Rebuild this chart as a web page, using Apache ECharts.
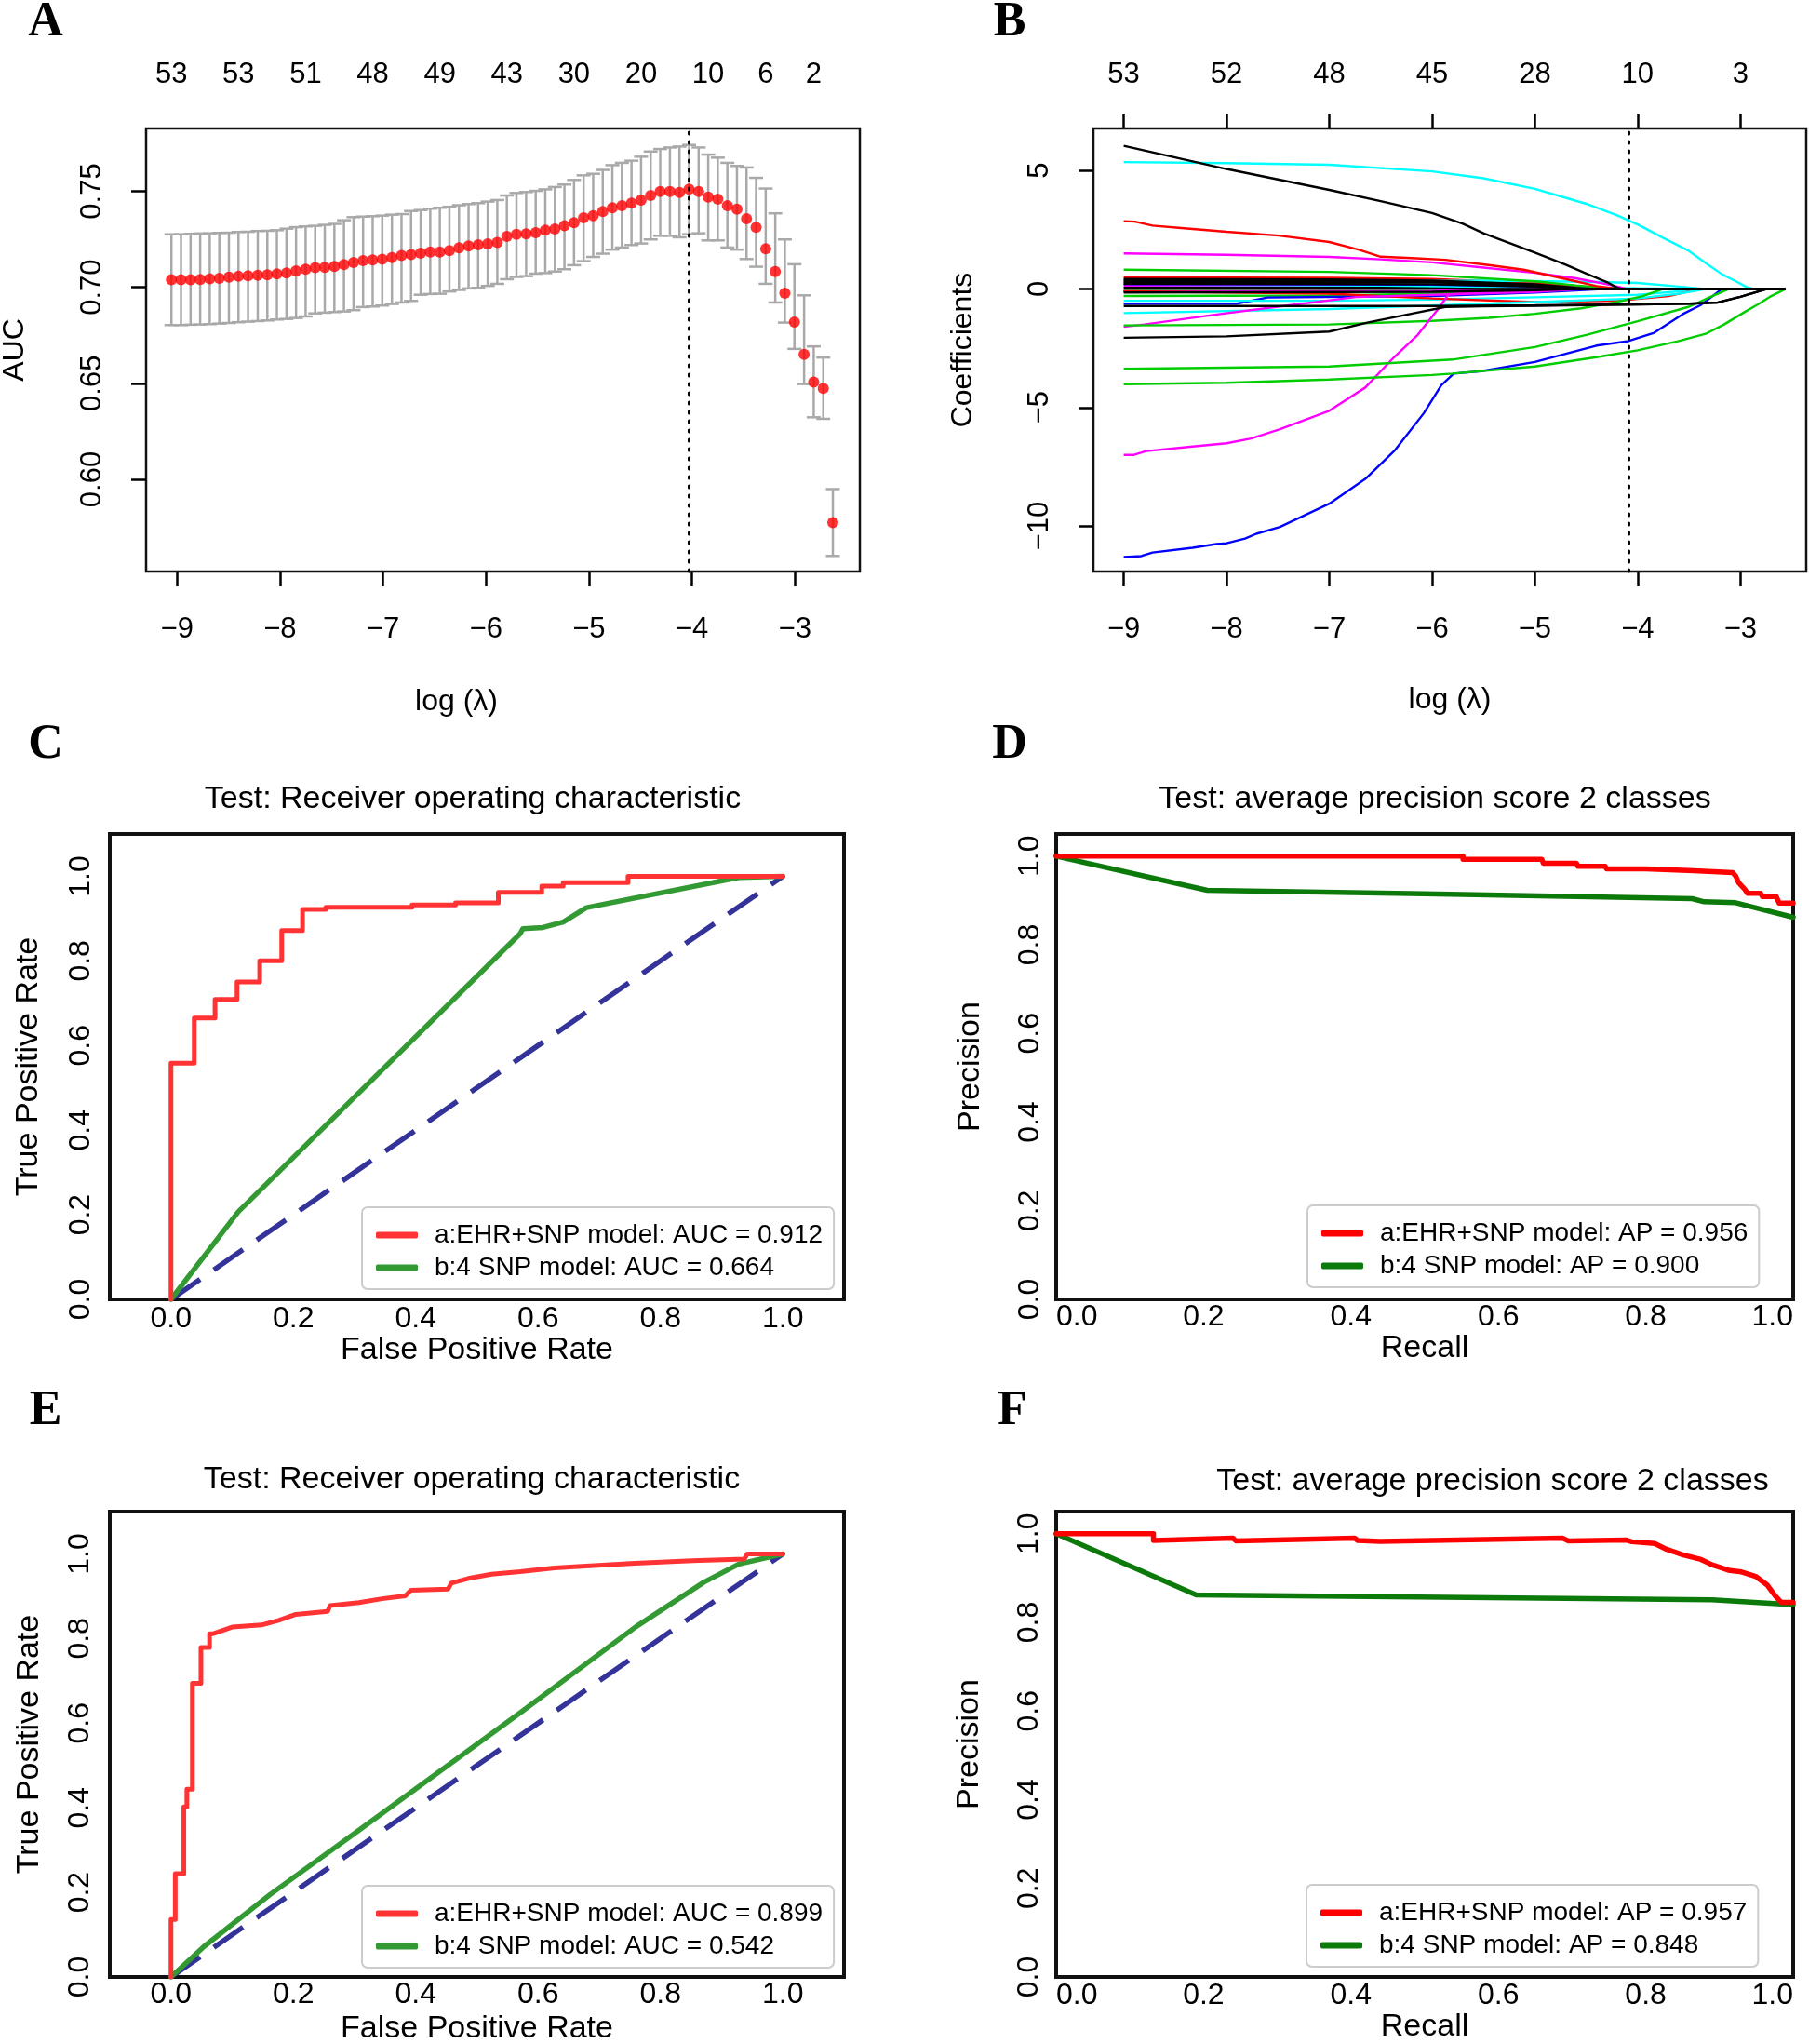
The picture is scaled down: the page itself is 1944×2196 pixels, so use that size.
<!DOCTYPE html>
<html><head><meta charset="utf-8">
<script src="https://cdn.jsdelivr.net/npm/echarts@6/dist/echarts.min.js"></script>
<style>html,body{margin:0;padding:0;background:#fff}#c{width:1944px;height:2196px}</style>
</head><body><div id="c"></div><script>
// ---------------- Panel A: cross-validated AUC vs log(lambda) ----------------
const logLambdaA = [-9.054,-8.961,-8.868,-8.775,-8.682,-8.589,-8.496,-8.403,-8.310,-8.216,
  -8.123,-8.030,-7.937,-7.844,-7.751,-7.658,-7.565,-7.472,-7.379,-7.286,
  -7.193,-7.100,-7.007,-6.913,-6.820,-6.727,-6.634,-6.541,-6.448,-6.355,
  -6.262,-6.169,-6.076,-5.983,-5.890,-5.797,-5.704,-5.610,-5.517,-5.424,
  -5.331,-5.238,-5.145,-5.052,-4.959,-4.866,-4.773,-4.680,-4.587,-4.494,
  -4.401,-4.308,-4.214,-4.121,-4.028,-3.935,-3.842,-3.749,-3.656,-3.563,
  -3.470,-3.377,-3.284,-3.191,-3.098,-3.005,-2.911,-2.818,-2.725,-2.632];
const aucMean = [0.7039,0.7039,0.7039,0.7041,0.7044,0.7047,0.7053,0.7057,0.7060,0.7063,
  0.7065,0.7070,0.7074,0.7086,0.7094,0.7102,0.7104,0.7108,0.7118,0.7129,
  0.7139,0.7142,0.7146,0.7155,0.7165,0.7170,0.7178,0.7184,0.7184,0.7191,
  0.7205,0.7215,0.7221,0.7226,0.7233,0.7265,0.7276,0.7278,0.7284,0.7297,
  0.7304,0.7320,0.7336,0.7362,0.7373,0.7394,0.7414,0.7425,0.7438,0.7454,
  0.7478,0.7499,0.7499,0.7494,0.7511,0.7499,0.7470,0.7459,0.7425,0.7406,
  0.7357,0.7312,0.7200,0.7082,0.6969,0.6819,0.6651,0.6506,0.6474,0.5774];
const aucUpper = [0.7276,0.7276,0.7278,0.7280,0.7281,0.7283,0.7284,0.7288,0.7289,0.7293,
  0.7294,0.7297,0.7305,0.7313,0.7317,0.7320,0.7325,0.7330,0.7349,0.7365,
  0.7368,0.7370,0.7373,0.7378,0.7381,0.7397,0.7402,0.7409,0.7414,0.7419,
  0.7427,0.7433,0.7438,0.7446,0.7454,0.7478,0.7491,0.7496,0.7502,0.7510,
  0.7522,0.7535,0.7559,0.7583,0.7591,0.7611,0.7636,0.7648,0.7659,0.7680,
  0.7707,0.7720,0.7728,0.7733,0.7741,0.7728,0.7691,0.7675,0.7648,0.7632,
  0.7624,0.7570,0.7514,0.7385,0.7249,0.7120,0.6958,0.6692,0.6634,0.5949];
const aucLower = [0.6803,0.6803,0.6805,0.6806,0.6808,0.6811,0.6814,0.6818,0.6821,0.6824,
  0.6827,0.6832,0.6835,0.6840,0.6848,0.6864,0.6868,0.6871,0.6874,0.6881,
  0.6897,0.6900,0.6905,0.6913,0.6921,0.6929,0.6961,0.6965,0.6966,0.6978,
  0.6986,0.6994,0.6997,0.7007,0.7018,0.7042,0.7054,0.7058,0.7071,0.7074,
  0.7082,0.7094,0.7115,0.7136,0.7158,0.7175,0.7196,0.7207,0.7220,0.7228,
  0.7249,0.7268,0.7268,0.7260,0.7276,0.7281,0.7244,0.7244,0.7207,0.7196,
  0.7147,0.7107,0.7018,0.6921,0.6816,0.6679,0.6496,0.6323,0.6315,0.5601];
const nzTopAPos = [-9.054,-8.403,-7.751,-7.100,-6.448,-5.797,-5.145,-4.494,-3.842,-3.284,-2.818];
const nzTopA = [53,53,51,48,49,43,30,20,10,6,2];
const lambdaMinA = -4.028;
const logTicks = [-9,-8,-7,-6,-5,-4,-3];
const aucTicks = [0.60,0.65,0.70,0.75];

// ---------------- Panel B: coefficient paths ----------------
const nzTopB = [53,52,48,45,28,10,3];
const coefTicks = [-10,-5,0,5];
const lambdaLineB = -4.09;
const coefPaths = [
  [[-9,0.49],[-7,0.47],[-6,0.42],[-5,0.25],[-4.5,0.08],[-4.2,0],[-2.56,0]],
  [[-9,0.28],[-7,0.32],[-5.45,0.35],[-4.5,0.3],[-4,0.25],[-3.6,0.1],[-3.35,0],[-2.56,0]],
  [[-9,0.13],[-6,0.1],[-5,0.03],[-4.8,0],[-2.56,0]],
  [[-9,-0.1],[-6,-0.1],[-5,-0.05],[-4.5,0],[-2.56,0]],
  [[-9,-0.3],[-7,-0.28],[-6,-0.2],[-5,-0.1],[-4.5,0],[-2.56,0]],
  [[-9,-0.62],[-7.9,-0.62],[-7.6,-0.36],[-6,-0.3],[-5,-0.15],[-4.3,0],[-2.56,0]],
  [[-9,-0.5],[-7,-0.5],[-6,-0.45],[-5,-0.35],[-4,-0.25],[-3.33,0],[-2.56,0]],
  [[-9,-0.05],[-6,-0.05],[-5.5,0],[-2.56,0]],
  [[-9,-0.1],[-6,-0.08],[-5,0],[-2.56,0]],
  [[-9,0.05],[-6,0.1],[-5,0.08],[-4,0.03],[-3.5,0],[-2.56,0]],
  [[-9,0.2],[-6,0.18],[-5,0.1],[-4.5,0],[-2.56,0]],
  [[-9,-0.1],[-7,-0.2],[-6,-0.4],[-5,-0.55],[-4.2,-0.5],[-3.7,-0.3],[-3.39,0],[-2.56,0]],
  [[-9,-1.02],[-7,-0.85],[-6,-0.7],[-5,-0.55],[-4,-0.4],[-3.6,-0.2],[-3.33,0],[-2.56,0]],
  [[-9,-1.6],[-8.8,-1.5],[-8.13,-1.1],[-7.5,-0.75],[-6.74,-0.34],[-6,-0.25],[-5,-0.12],[-4.5,0],[-2.56,0]],
  [[-9,-1.54],[-7,-1.5],[-6,-1.35],[-5.45,-1.22],[-5,-1.05],[-4.55,-0.82],[-4.2,-0.55],[-3.95,-0.3],[-3.75,0],[-2.56,0]],
  [[-9,0.81],[-7,0.72],[-6,0.58],[-5,0.32],[-4.6,0.15],[-4.3,0.03],[-4.1,0],[-2.56,0]],
  [[-9,1.5],[-8,1.44],[-7,1.35],[-6.5,1.25],[-6,1.12],[-5.5,0.9],[-5,0.68],[-4.6,0.45],[-4.3,0.2],[-4.1,0],[-2.56,0]],
  [[-9,2.86],[-8.89,2.84],[-8.72,2.67],[-8.44,2.57],[-8,2.41],[-7.49,2.25],[-7,1.98],[-6.71,1.65],[-6.5,1.36],[-6.2,1.3],[-5.87,1.23],[-5.45,1.01],[-5.11,0.81],[-4.63,0.35],[-4.4,0.12],[-4.18,0],[-2.56,0]],
  [[-9,5.35],[-8,5.31],[-7,5.24],[-6,4.96],[-5.5,4.67],[-5,4.22],[-4.5,3.59],[-4.2,3.1],[-4,2.72],[-3.75,2.15],[-3.5,1.6],[-3.33,1.07],[-3.18,0.62],[-3.03,0.29],[-2.95,0.1],[-2.88,0],[-2.56,0]],
  [[-9,-7.0],[-8.9,-7.0],[-8.78,-6.84],[-8.33,-6.65],[-8,-6.51],[-7.76,-6.31],[-7.48,-5.92],[-7,-5.14],[-6.65,-4.16],[-6.37,-2.88],[-6.14,-1.94],[-5.95,-0.9],[-5.84,-0.23],[-5.5,-0.12],[-5,0],[-2.56,0]],
  [[-9,-11.31],[-8.83,-11.27],[-8.72,-11.12],[-8.33,-10.92],[-8.1,-10.76],[-8,-10.73],[-7.82,-10.53],[-7.71,-10.33],[-7.48,-10.04],[-7,-9.06],[-6.64,-7.98],[-6.36,-6.8],[-6.08,-5.24],[-5.91,-4.06],[-5.79,-3.57],[-5.52,-3.47],[-5,-3.08],[-4.4,-2.39],[-4.09,-2.2],[-3.84,-1.85],[-3.56,-1.06],[-3.39,-0.69],[-3.33,-0.5],[-3.18,0],[-2.56,0]],
  [[-9,-3.37],[-7,-3.27],[-5.8,-2.98],[-5,-2.45],[-4.5,-1.94],[-4,-1.36],[-3.5,-0.75],[-3.3,-0.35],[-3.11,0],[-2.56,0]],
  [[-9,-4.02],[-8,-3.96],[-7,-3.82],[-6,-3.63],[-5.8,-3.57],[-5,-3.27],[-4.4,-2.88],[-4,-2.59],[-3.6,-2.2],[-3.33,-1.88],[-3.16,-1.5],[-2.95,-0.95],[-2.83,-0.65],[-2.7,-0.3],[-2.56,0]],
  [[-9,0.42],[-7,0.4],[-6,0.35],[-5,0.2],[-4.6,0.05],[-4.4,0],[-2.56,0]],
  [[-9,0.36],[-7,0.35],[-6,0.3],[-5,0.12],[-4.7,0],[-2.56,0]],
  [[-9,0.22],[-6,0.2],[-5,0.1],[-4.6,0],[-2.56,0]],
  [[-9,0.05],[-6.5,0.05],[-5.5,0],[-2.56,0]],
  [[-9,-0.15],[-6,-0.12],[-5,-0.05],[-4.5,0],[-2.56,0]],
  [[-9,0.3],[-6,0.28],[-5,0.15],[-4.5,0],[-2.56,0]],
  [[-9,-0.72],[-7,-0.72],[-6,-0.72],[-5,-0.69],[-4,-0.65],[-3.5,-0.62],[-3.22,-0.57],[-3.0,-0.33],[-2.74,0],[-2.56,0]],
  [[-9,-2.06],[-8,-2.0],[-7,-1.8],[-6.62,-1.41],[-6.17,-1.02],[-5.87,-0.76],[-5.5,-0.73],[-5,-0.71],[-4.5,-0.68],[-4,-0.65],[-3.5,-0.62],[-3.22,-0.57],[-3,-0.33],[-2.74,0],[-2.56,0]],
  [[-9,6.04],[-8.5,5.55],[-8,5.06],[-7.5,4.62],[-7,4.18],[-6.5,3.7],[-6,3.2],[-5.7,2.75],[-5.5,2.35],[-5,1.53],[-4.7,1.02],[-4.5,0.65],[-4.3,0.29],[-4.2,0.05],[-4.15,0],[-2.56,0]]
];
const coefColors = ['#ff0000','#00ffff','#ff00ff','#0000ff','#00cd00','#0000ff','#00ffff','#00cd00','#ff00ff','#00ffff','#0000ff',
  '#ff0000','#00ffff','#ff00ff','#00cd00','#00cd00','#ff00ff','#ff0000','#00ffff','#ff00ff','#0000ff','#00cd00','#00cd00',
  '#000000','#000000','#000000','#000000','#000000','#000000','#000000','#000000','#000000'];

// ---------------- Panels C-F ----------------
const unitTicks = [0,0.2,0.4,0.6,0.8,1.0];
const chanceLine = [[0,0],[1,1]];
const nameC1 = 'a:EHR+SNP model: AUC = 0.912', nameC2 = 'b:4 SNP model: AUC = 0.664';
const rocC_red = [[0,0],[0,0.558],[0.038,0.558],[0.038,0.665],[0.072,0.665],[0.072,0.709],[0.108,0.709],[0.108,0.75],[0.145,0.75],[0.145,0.80],[0.181,0.80],[0.181,0.872],[0.215,0.872],[0.215,0.922],[0.253,0.922],[0.253,0.927],[0.394,0.927],[0.394,0.932],[0.465,0.932],[0.465,0.937],[0.535,0.937],[0.535,0.962],[0.606,0.962],[0.606,0.977],[0.641,0.977],[0.641,0.985],[0.747,0.985],[0.747,1.0],[1.0,1.0]];
const rocC_green = [[0,0],[0.11,0.207],[0.5705,0.864],[0.575,0.876],[0.608,0.879],[0.641,0.892],[0.679,0.926],[0.928,0.997],[1.0,1.0]];
const nameD1 = 'a:EHR+SNP model: AP = 0.956', nameD2 = 'b:4 SNP model: AP = 0.900';
const prD_red = [[0,1.0],[0.552,1.0],[0.552,0.993],[0.659,0.993],[0.661,0.984],[0.706,0.984],[0.708,0.977],[0.745,0.977],[0.747,0.971],[0.800,0.971],[0.802,0.967],[0.865,0.967],[0.867,0.963],[0.918,0.963],[0.922,0.955],[0.926,0.940],[0.934,0.926],[0.938,0.916],[0.956,0.916],[0.958,0.909],[0.977,0.909],[0.981,0.894],[1.0,0.894]];
const prD_green = [[0,1.0],[0.205,0.923],[0.5,0.915],[0.863,0.904],[0.879,0.897],[0.922,0.895],[1.0,0.862]];
const nameE1 = 'a:EHR+SNP model: AUC = 0.899', nameE2 = 'b:4 SNP model: AUC = 0.542';
const rocE_red = [[0,0],[0,0.136],[0.007,0.136],[0.007,0.244],[0.021,0.244],[0.021,0.402],[0.026,0.402],[0.026,0.444],[0.035,0.444],[0.035,0.694],[0.049,0.694],[0.049,0.779],[0.063,0.779],[0.063,0.811],[0.068,0.811],[0.1,0.827],[0.148,0.832],[0.176,0.843],[0.204,0.857],[0.256,0.864],[0.26,0.878],[0.307,0.885],[0.345,0.894],[0.383,0.901],[0.392,0.914],[0.453,0.917],[0.458,0.931],[0.486,0.942],[0.524,0.952],[0.571,0.958],[0.627,0.967],[0.665,0.970],[0.758,0.978],[0.852,0.984],[0.937,0.988],[0.942,1.0],[1.0,1.0]];
const rocE_green = [[0,0],[0.054,0.072],[0.162,0.195],[0.289,0.328],[0.571,0.625],[0.759,0.827],[0.871,0.933],[0.928,0.976],[1.0,1.0]];
const nameF1 = 'a:EHR+SNP model: AP = 0.957', nameF2 = 'b:4 SNP model: AP = 0.848';
const prF_red = [[0,1.0],[0.132,1.0],[0.132,0.985],[0.240,0.990],[0.244,0.984],[0.405,0.990],[0.409,0.985],[0.440,0.983],[0.687,0.990],[0.695,0.984],[0.773,0.986],[0.781,0.982],[0.812,0.978],[0.828,0.965],[0.851,0.952],[0.875,0.942],[0.890,0.930],[0.914,0.917],[0.930,0.914],[0.949,0.904],[0.965,0.884],[0.976,0.859],[0.984,0.845],[1.0,0.845]];
const prF_green = [[0,1.0],[0.19,0.862],[0.89,0.851],[1.0,0.840]];

// ---------------- styling / layout ----------------
const FONT = '"Liberation Sans", Arial, sans-serif';
const SERIF = '"Liberation Serif", "DejaVu Serif", serif';
const minus = v => (v < 0 ? '\u2212' + Math.abs(v) : String(v));
const hideSplit = {show:false};
const noLine = {show:false, onZero:false};

function grid(left, top, width, height, bw) {
  return {left, top, width, height, show:true, borderColor:'#111', borderWidth:bw,
          backgroundColor:'transparent', containLabel:false, outerBoundsMode:'none'};
}
function rAxisX(gi, min, max, opts) {
  return Object.assign({type:'value', gridIndex:gi, min, max, splitLine:hideSplit, axisLine:noLine}, opts);
}
const rTick = (vals) => ({show:true, customValues: vals, length:16, inside:false, lineStyle:{color:'#000', width:2.5}});
const rLabel = (vals, margin, fmt, rot) => ({customValues: vals, margin, formatter: fmt, rotate: rot || 0,
  fontSize:31, color:'#000', fontFamily:FONT});
const rName = {fontSize:32, color:'#000', fontFamily:FONT};

const xAxes = [
  // A bottom
  rAxisX(0, -9.30, -2.37, {position:'bottom', axisTick:rTick(logTicks), axisLabel:rLabel(logTicks,47,minus),
    name:'log (\u03bb)', nameLocation:'middle', nameGap:124,
    nameTextStyle:Object.assign({padding:[0,100,0,0]}, rName)}),
  // A top (number of nonzero coefficients)
  rAxisX(0, -9.30, -2.37, {position:'top', axisTick:{show:false},
    axisLabel:rLabel(nzTopAPos,42,v => String(nzTopA[nzTopAPos.findIndex(p => Math.abs(p - v) < 1e-6)]))}),
  // B bottom
  rAxisX(1, -9.295, -2.36, {position:'bottom', axisTick:rTick(logTicks), axisLabel:rLabel(logTicks,47,minus),
    name:'log (\u03bb)', nameLocation:'middle', nameGap:122, nameTextStyle:rName}),
  // B top
  rAxisX(1, -9.295, -2.36, {position:'top', axisTick:rTick(logTicks),
    axisLabel:rLabel(logTicks,42,v => String(nzTopB[logTicks.indexOf(Math.round(v))]))})
];
const yAxes = [
  {type:'value', gridIndex:0, min:0.552, max:0.7827, splitLine:hideSplit, axisLine:noLine,
   axisTick:rTick(aucTicks), axisLabel:rLabel(aucTicks,42,v => v.toFixed(2),90),
   name:'AUC', nameLocation:'middle', nameGap:125, nameTextStyle:rName},
  {type:'value', gridIndex:1, min:-11.92, max:6.77, splitLine:hideSplit, axisLine:noLine,
   axisTick:rTick(coefTicks), axisLabel:rLabel(coefTicks,42,minus,90),
   name:'Coefficients', nameLocation:'middle', nameGap:124, nameTextStyle:rName}
];

function mplX(gi, min, max, name, margin, gap, edgeAlign) {
  const lab = {customValues:unitTicks, formatter:v => v.toFixed(1), margin, fontSize:32, color:'#000', fontFamily:FONT};
  if (edgeAlign) { lab.alignMinLabel = 'left'; lab.alignMaxLabel = 'right'; }
  return {type:'value', gridIndex:gi, min, max, splitLine:hideSplit, axisLine:noLine, axisTick:{show:false},
    axisLabel:lab, name, nameLocation:'middle', nameGap:gap, nameTextStyle:{fontSize:34, color:'#000', fontFamily:FONT}};
}
function mplY(gi, min, max, name, margin, gap) {
  return {type:'value', gridIndex:gi, min, max, splitLine:hideSplit, axisLine:noLine, axisTick:{show:false},
    axisLabel:{customValues:unitTicks, formatter:v => v.toFixed(1), margin, rotate:90, fontSize:32, color:'#000', fontFamily:FONT},
    name, nameLocation:'middle', nameGap:gap, nameTextStyle:{fontSize:34, color:'#000', fontFamily:FONT}};
}
xAxes.push(mplX(2, -0.1, 1.1, 'False Positive Rate', 5, 37, false));
xAxes.push(mplX(3, 0, 1, 'Recall', 3, 35, true));
xAxes.push(mplX(4, -0.1, 1.1, 'False Positive Rate', 3, 39, false));
xAxes.push(mplX(5, 0, 1, 'Recall', 4, 37, true));
yAxes.push(mplY(2, 0, 1.1, 'True Positive Rate', 15, 70));
yAxes.push(mplY(3, 0, 1.05, 'Precision', 12, 75));
yAxes.push(mplY(4, 0, 1.1, 'True Positive Rate', 16, 69));
yAxes.push(mplY(5, 0, 1.05, 'Precision', 13, 76));

const dotted = (x) => ({symbol:'none', silent:true, label:{show:false},
  lineStyle:{type:[2,8], cap:'round', color:'#000', width:3}, data:[{xAxis:x}]});

const series = [];
// A: error bars
series.push({type:'custom', xAxisIndex:0, yAxisIndex:0, silent:true,
  data: logLambdaA.map((x,i) => [x, aucLower[i], aucUpper[i]]),
  encode:{x:0, y:[1,2]},
  renderItem(params, api) {
    const x = api.value(0);
    const lo = api.coord([x, api.value(1)]);
    const hi = api.coord([x, api.value(2)]);
    const hw = 7.5, st = {stroke:'#a9a9a9', lineWidth:2.5};
    return {type:'group', children:[
      {type:'line', shape:{x1:lo[0], y1:lo[1], x2:hi[0], y2:hi[1]}, style:st},
      {type:'line', shape:{x1:lo[0]-hw, y1:lo[1], x2:lo[0]+hw, y2:lo[1]}, style:st},
      {type:'line', shape:{x1:hi[0]-hw, y1:hi[1], x2:hi[0]+hw, y2:hi[1]}, style:st}
    ]};
  }});
series.push({type:'scatter', xAxisIndex:0, yAxisIndex:0, silent:true, symbolSize:12,
  itemStyle:{color:'#ff0000'}, data: logLambdaA.map((x,i) => [x, aucMean[i]]), markLine: dotted(lambdaMinA), z:3});
// B: coefficient paths
coefPaths.forEach((pts, i) => {
  series.push({type:'line', xAxisIndex:2, yAxisIndex:1, data:pts, showSymbol:false, silent:true,
    lineStyle:{color:coefColors[i], width:2.4}, itemStyle:{color:coefColors[i]},
    markLine: i === 0 ? dotted(lambdaLineB) : undefined});
});
// C-F
function curve(name, xi, yi, data, color, width, extra) {
  return Object.assign({type:'line', name, xAxisIndex:xi, yAxisIndex:yi, data, showSymbol:false, silent:true,
    lineStyle:{color, width, cap:'round', join:'round'}, itemStyle:{color}}, extra || {});
}
const dashStyle = {color:'#333399', width:5.5, type:[38,18]};
series.push(curve('chanceC', 4, 2, chanceLine, '#333399', 5.5, {lineStyle:dashStyle}));
series.push(curve(nameC2, 4, 2, rocC_green, '#339933', 5.5));
series.push(curve(nameC1, 4, 2, rocC_red, '#ff3333', 5));
series.push(curve(nameD2, 5, 3, prD_green, '#0b7a0b', 5.5));
series.push(curve(nameD1, 5, 3, prD_red, '#ff0000', 5.5));
series.push(curve('chanceE', 6, 4, chanceLine, '#333399', 5.5, {lineStyle:dashStyle}));
series.push(curve(nameE2, 6, 4, rocE_green, '#339933', 5.5));
series.push(curve(nameE1, 6, 4, rocE_red, '#ff3333', 5));
series.push(curve(nameF2, 7, 5, prF_green, '#0b7a0b', 5.5));
series.push(curve(nameF1, 7, 5, prF_red, '#ff0000', 5.5));

function legendBox(names, left, top) {
  return {data:names, left, top, orient:'vertical', selectedMode:false, icon:'roundRect',
    itemWidth:45, itemHeight:7, itemGap:7, padding:[16,12,9,15],
    borderColor:'#cccccc', borderWidth:2, borderRadius:6, backgroundColor:'#ffffff',
    textStyle:{fontSize:28, color:'#000', fontFamily:FONT, padding:[0,0,0,13]}};
}

const txt = (text, x, y, font) => ({type:'text', x, y, silent:true,
  style:{text, font, fill:'#000', align:'center', verticalAlign:'middle'}});
const letterFont = 'bold 52px ' + SERIF;
const titleFont = '34px ' + FONT;

const option = {
  animation:false,
  backgroundColor:'#ffffff',
  textStyle:{fontFamily:FONT},
  grid:[
    grid(157, 138, 767, 476, 2.5),
    grid(1175, 138, 766, 476, 2.5),
    grid(118, 896, 789, 500, 4),
    grid(1135, 896, 792, 500, 4),
    grid(118, 1624, 789, 500, 4),
    grid(1135, 1624, 792, 500, 4)
  ],
  xAxis: xAxes,
  yAxis: yAxes,
  legend:[
    legendBox([nameC1, nameC2], 389, 1297),
    legendBox([nameD1, nameD2], 1405, 1295),
    legendBox([nameE1, nameE2], 389, 2026),
    legendBox([nameF1, nameF2], 1404, 2025)
  ],
  series,
  graphic:[
    txt('A', 49, 25, letterFont), txt('B', 1085, 25, letterFont),
    txt('C', 49, 801, letterFont), txt('D', 1085, 801, letterFont),
    txt('E', 49, 1517, letterFont), txt('F', 1088, 1517, letterFont),
    txt('Test: Receiver operating characteristic', 508, 859, titleFont),
    txt('Test: average precision score 2 classes', 1542, 859, titleFont),
    txt('Test: Receiver operating characteristic', 507, 1590, titleFont),
    txt('Test: average precision score 2 classes', 1604, 1592, titleFont)
  ]
};
const chart = echarts.init(document.getElementById('c'), null, {renderer:'canvas', width:1944, height:2196});
chart.setOption(option);
</script></body></html>
